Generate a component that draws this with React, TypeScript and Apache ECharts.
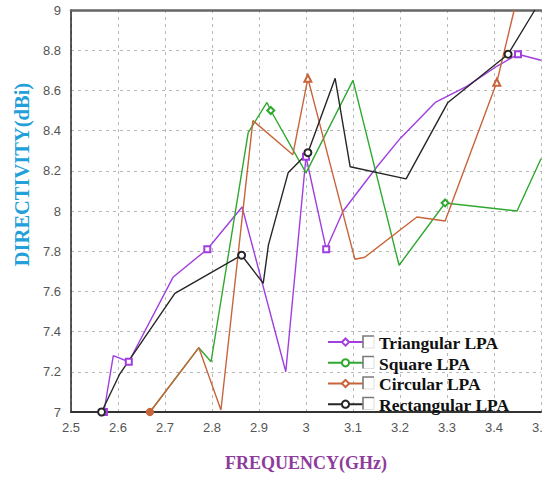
import React, { useEffect, useRef } from "react";
import * as echarts from "echarts";

// ---- data ----
const xTicks = { min: 2.5, max: 3.5, interval: 0.1 };
const yTicks = { min: 7, max: 9, interval: 0.2 };

const seriesNames = ["Triangular LPA", "Square LPA", "Circular LPA", "Rectangular LPA"];

const triangularFreq = [2.57, 2.59, 2.623, 2.717, 2.79, 2.864, 2.957, 3.0, 3.043, 3.079, 3.151, 3.2, 3.275, 3.342, 3.406, 3.451, 3.5];
const triangularDir = [7.0, 7.28, 7.25, 7.67, 7.81, 8.02, 7.2, 8.27, 7.81, 8.0, 8.22, 8.36, 8.54, 8.62, 8.72, 8.78, 8.75];
const triangularMarks = [0, 2, 4, 7, 8, 15];

const squareFreq = [2.668, 2.772, 2.798, 2.877, 2.917, 2.925, 3.0, 3.1, 3.198, 3.296, 3.449, 3.5];
const squareDir = [7.0, 7.32, 7.25, 8.39, 8.54, 8.5, 8.19, 8.65, 7.73, 8.04, 8.0, 8.26];
const squareMarks = [5, 9];

const circularFreq = [2.668, 2.772, 2.819, 2.887, 2.972, 3.004, 3.104, 3.125, 3.236, 3.296, 3.406, 3.443];
const circularDir = [7.0, 7.32, 7.01, 8.45, 8.28, 8.66, 7.76, 7.77, 7.97, 7.95, 8.64, 9.0];
const circularMarks = [0, 5, 10];

const rectangularFreq = [2.565, 2.604, 2.721, 2.863, 2.909, 2.92, 2.962, 3.004, 3.062, 3.094, 3.213, 3.302, 3.43, 3.487];
const rectangularDir = [7.0, 7.19, 7.59, 7.78, 7.64, 7.83, 8.19, 8.29, 8.66, 8.22, 8.16, 8.54, 8.78, 9.0];
const rectangularMarks = [0, 3, 7, 12];

const colors = ["#a03ee0", "#2fa82f", "#c8643a", "#262626"];

const SERIF = "Liberation Serif";

function buildData(xs: number[], ys: number[], marks: number[], markSymbol: string, firstSymbol?: string) {
  return xs.map((x, i) => {
    const m = marks.indexOf(i);
    let symbol = "none";
    if (m >= 0) symbol = m === 0 && firstSymbol ? firstSymbol : markSymbol;
    return { value: [x, ys[i]], symbol };
  });
}

export default function App() {
  const ref = useRef<HTMLDivElement>(null);
  useEffect(() => {
    if (!ref.current) return;
    const chart = echarts.init(ref.current, null, { renderer: "svg" });

    const mkSeries = (name: string, color: string, data: any[], legendSymbol: string, size: number) => ({
      name,
      type: "line",
      data,
      symbol: legendSymbol,
      symbolSize: size,
      showSymbol: true,
      showAllSymbol: true,
      clip: true,
      lineStyle: { color, width: 1.4 },
      itemStyle: { color, borderColor: color, borderWidth: 1.2 },
      emphasis: { disabled: true },
    });

    const rowY = [342, 362.5, 383, 403.5];
    const legendGraphics: any[] = [];
    rowY.forEach((yc, i) => {
      legendGraphics.push({
        type: "polyline",
        shape: { points: [[374, yc - 6], [374, yc + 6], [363, yc + 6]] },
        style: { stroke: "#dedede", lineWidth: 1, fill: "none" },
        z: 20,
      });
      legendGraphics.push({
        type: "polyline",
        shape: { points: [[363, yc + 6], [363, yc - 6], [374, yc - 6]] },
        style: { stroke: "#7a7a7a", lineWidth: 1.6, fill: "none" },
        z: 20,
      });
      legendGraphics.push({
        type: "text",
        x: 379,
        y: yc + 1,
        z: 20,
        style: {
          text: seriesNames[i],
          fontFamily: SERIF,
          fontWeight: "bold",
          fontSize: 17.5,
          fill: "#111",
          textAlign: "left",
          textVerticalAlign: "middle",
        },
      });
    });

    chart.setOption({
      animation: false,
      backgroundColor: "#ffffff",
      grid: { left: 71, right: 29, top: 10, bottom: 63, containLabel: false },
      legend: {
        orient: "vertical",
        left: 327,
        top: 337.5,
        padding: 0,
        itemWidth: 35,
        itemHeight: 9,
        itemGap: 11.5,
        data: seriesNames,
        formatter: () => "",
        selectedMode: false,
      },
      xAxis: [
        {
          type: "value",
          min: xTicks.min,
          max: xTicks.max,
          interval: xTicks.interval,
          name: "FREQUENCY(GHz)",
          nameLocation: "middle",
          nameGap: 42,
          nameTextStyle: {
            fontFamily: SERIF,
            fontWeight: "bold",
            fontSize: 18,
            color: "#8e3c9c",
          },
          axisLine: { show: true, onZero: false, lineStyle: { color: "#333", width: 2 } },
          axisTick: { show: false },
          axisLabel: {
            color: "#555",
            fontFamily: "Liberation Sans",
            fontSize: 13,
            margin: 9,
            formatter: (v: number) => String(Math.round(v * 10) / 10),
          },
          splitLine: { show: true, lineStyle: { color: "#b8b8b8", type: [3, 4], width: 1 } },
        },
        {
          type: "value",
          position: "top",
          min: xTicks.min,
          max: xTicks.max,
          interval: xTicks.interval,
          axisLine: { show: true, onZero: false, lineStyle: { color: "#666", width: 2.5 } },
          axisTick: { show: false },
          axisLabel: { show: false },
          splitLine: { show: false },
        },
      ],
      yAxis: {
        type: "value",
        min: yTicks.min,
        max: yTicks.max,
        interval: yTicks.interval,
        name: "DIRECTIVITY(dBi)",
        nameLocation: "middle",
        nameGap: 38,
        nameTextStyle: {
          fontFamily: SERIF,
          fontWeight: "bold",
          fontSize: 20.5,
          color: "#239fd9",
          padding: [0, 0, 0, 73],
        },
        axisLine: { show: true, onZero: false, lineStyle: { color: "#222", width: 1.5 } },
        axisTick: { show: false },
        axisLabel: {
          color: "#555",
          fontFamily: "Liberation Sans",
          fontSize: 13,
          margin: 10,
          formatter: (v: number) => String(Math.round(v * 10) / 10),
        },
        splitLine: { show: true, lineStyle: { color: "#b8b8b8", type: [3, 4], width: 1 } },
      },
      graphic: legendGraphics,
      series: [
        mkSeries(seriesNames[0], colors[0], buildData(triangularFreq, triangularDir, triangularMarks, "emptyRect"), "emptyDiamond", 6),
        mkSeries(seriesNames[1], colors[1], buildData(squareFreq, squareDir, squareMarks, "emptyDiamond"), "emptyCircle", 7),
        mkSeries(seriesNames[2], colors[2], buildData(circularFreq, circularDir, circularMarks, "emptyTriangle", "circle"), "emptyDiamond", 7),
        mkSeries(seriesNames[3], colors[3], buildData(rectangularFreq, rectangularDir, rectangularMarks, "emptyCircle"), "emptyCircle", 7),
      ],
    });
    return () => chart.dispose();
  }, []);
  return (
    <div
      ref={ref}
      style={{ position: "fixed", left: 0, top: 0, width: 570, height: 477, background: "#fff" }}
    />
  );
}
